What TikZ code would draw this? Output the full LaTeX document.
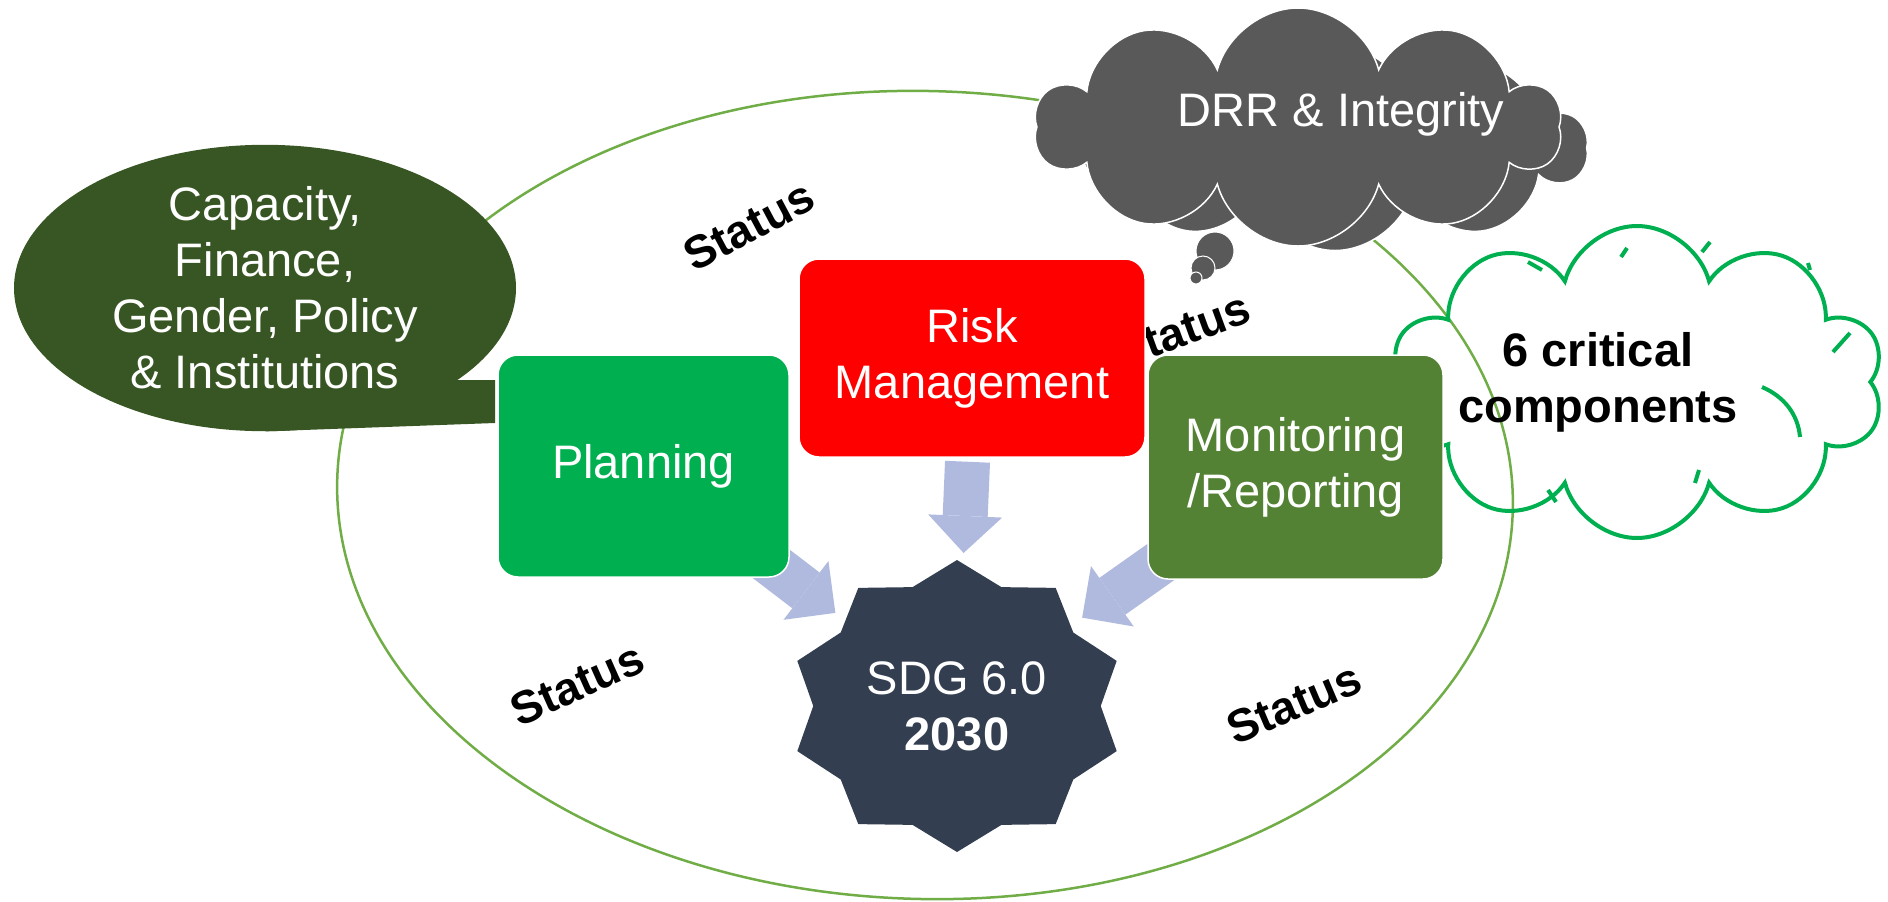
\documentclass[tikz,border=0pt]{standalone}
\usepackage{fontspec}
\setmainfont{Liberation Sans}
\usetikzlibrary{
    positioning,
    calc,
    shapes.geometric,
    shapes.symbols,
    arrows.meta,
    backgrounds
}
\definecolor{RingGreen}{HTML}{70AD47}
\definecolor{DarkGreen}{HTML}{375623}
\definecolor{PlanGreen}{HTML}{00B050}
\definecolor{RiskRed}{HTML}{FF0000}
\definecolor{MonGreen}{HTML}{548235}
\definecolor{CloudGray}{HTML}{595959}
\definecolor{SdgSlate}{HTML}{333F50}
\definecolor{ArrowBlue}{HTML}{AFBADE}

\tikzset{
    bigfont/.style={font=\fontsize{47}{56}\selectfont},
    box/.style={
        bigfont,
        rounded corners=20pt,
        draw=white,
        line width=1.5pt,
        text=white,
        align=center,
        inner sep=0pt
    },
    statuslabel/.style={font=\bfseries\fontsize{46}{46}\selectfont, inner sep=0pt},
    puff/.style={
        cloud,
        cloud puffs=10,
        cloud ignores aspect,
        fill=CloudGray,
        draw=white,
        line width=1.5pt
    },
    flow/.style={
        draw=ArrowBlue,
        line width=45pt,
        -{Triangle[length=37pt,width=74pt,line width=0pt]}
    }
}

\begin{document}
\begin{tikzpicture}[x=1pt, y=-1pt]
    \useasboundingbox (0,0) rectangle (1888,902);

    % outer ring
    \draw[RingGreen, line width=2.5pt, rotate around={-1.5:(925,495)}]
        (925,495) ellipse [x radius=588pt, y radius=404pt];

    % status words round the ring
    \node[statuslabel, rotate=28] (st1) at (749,226) {Status};
    \node[statuslabel, rotate=20] (st2) at (1182,330) {Status};
    \node[statuslabel, rotate=24] (st3) at (577,684) {Status};
    \node[statuslabel, rotate=23] (st4) at (1294,703) {Status};

    % green cloud, right
    \node[cloud, cloud puffs=10, cloud ignores aspect,
          minimum width=494pt, minimum height=312pt,
          draw=PlanGreen, line width=4pt] (crit) at (1637,382) {};
    \foreach \xa/\ya/\xb/\yb in {1528/262/1542/270, 1621/257/1627/248,
                                 1702/252/1710/242, 1808/263/1810/270,
                                 1833/352/1850/333, 1695/483/1699/470,
                                 1548/490/1556/502}
        \draw[PlanGreen, line width=4pt] (\xa,\ya) -- (\xb,\yb);
    \draw[PlanGreen, line width=4pt] (1762,387) .. controls (1785,397) and (1798,415) .. (1800,437);
    \node[font=\bfseries\fontsize{47}{56}\selectfont, align=center] (crittxt) at (1598,382) {6 critical\\components};

    % thought cloud, top
    \node[puff, minimum width=500pt, minimum height=205pt] (drrback) at (1335,148) {};
    \node[puff, minimum width=525pt, minimum height=238pt] (drr) at (1298,127) {};
    \fill[CloudGray, draw=white, line width=1pt] (1215,251) circle [radius=19pt];
    \fill[CloudGray, draw=white, line width=1pt] (1203,268) circle [radius=12pt];
    \fill[CloudGray, draw=white, line width=1pt] (1196,278) circle [radius=6pt];
    \node[bigfont, text=white] (drrtxt) at (1341,114) {DRR \& Integrity};

    % speech bubble, left
    \node[ellipse, fill=DarkGreen, minimum width=502pt, minimum height=272pt,
          inner sep=0pt, text=white, align=center, bigfont] (cap) at (265,288)
          {Capacity,\\Finance,\\Gender, Policy\\\& Institutions};
    \fill[DarkGreen] (447,380) -- (495,380) -- (495,423) -- (cap.south) -- cycle;

    % the three components
    \node[box, fill=PlanGreen, minimum width=291pt, minimum height=222pt] (plan) at (643.5,466) {Planning};
    \node[box, fill=RiskRed, minimum width=346pt, minimum height=198pt] (risk) at (972,358) {Risk\\Management};
    \node[box, fill=MonGreen, minimum width=295pt, minimum height=224pt] (mon) at (1295.5,467) {Monitoring\\/Reporting};

    % goal star
    \fill[SdgSlate, shift={(957,706)}] plot[samples at={0,...,19}]
        ({1.15*(146-21*isodd(\x))*cos(90+18*\x)}, {-(146-21*isodd(\x))*sin(90+18*\x)}) -- cycle;
    \node[circle, minimum size=306pt, inner sep=0pt, text=white, align=center, bigfont] (sdg) at (957,706)
        {SDG 6.0\\\textbf{2030}};

    \begin{scope}[on background layer]
        \draw[flow, shorten <=-40pt] (plan) -- (sdg);
        \draw[flow, shorten <=4pt] (risk) -- (sdg);
        \draw[flow, shorten <=-40pt] (mon) -- (sdg);
    \end{scope}
\end{tikzpicture}
\end{document}
